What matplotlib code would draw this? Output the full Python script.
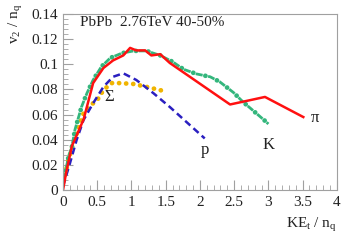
import matplotlib.pyplot as plt
import numpy as np

plt.rcParams['font.family'] = ['Liberation Serif', 'DejaVu Serif']
plt.rcParams['mathtext.fontset'] = 'custom'
plt.rcParams['mathtext.rm'] = 'Liberation Serif'
plt.rcParams['mathtext.it'] = 'Liberation Serif'
plt.rcParams['lines.scale_dashes'] = False

# pion (solid red)
pi_x = [0, 0.05, 0.13, 0.30, 0.44, 0.59, 0.73, 0.88, 0.98, 1.07, 1.20, 1.29, 1.42, 1.56, 2.44, 2.95, 3.51]
pi_y = [0, 0.015, 0.035, 0.056, 0.085, 0.097, 0.103, 0.107, 0.113, 0.111, 0.111, 0.107, 0.108, 0.101, 0.068, 0.074, 0.058]

# kaon (green dash-dot)
k_x = [0, 0.03, 0.08, 0.13, 0.175, 0.27, 0.35, 0.44, 0.56, 0.69, 0.86, 1.03, 1.22, 1.42, 1.60,
       1.76, 1.95, 2.15, 2.29, 2.49, 2.63, 2.78, 2.95, 3.0]
k_y = [0.008, 0.013, 0.0265, 0.0345, 0.048, 0.066, 0.077, 0.0875, 0.098, 0.105, 0.1088, 0.1106, 0.1106, 0.107, 0.102,
       0.096, 0.0923, 0.090, 0.086, 0.0775, 0.070, 0.063, 0.055, 0.0525]

# proton (blue dashed)
p_x = [0, 0.10, 0.20, 0.30, 0.44, 0.59, 0.73, 0.88, 1.07, 1.32, 1.56, 2.07]
p_y = [0.003, 0.021, 0.040, 0.0557, 0.069, 0.082, 0.090, 0.0928, 0.0875, 0.077, 0.066, 0.041]

# sigma (orange dotted)
s_x = [0.03, 0.08, 0.15, 0.22, 0.30, 0.44, 0.52, 0.59, 0.71, 0.83, 1.03, 1.22, 1.45]
s_y = [0.012, 0.024, 0.037, 0.048, 0.061, 0.069, 0.073, 0.0795, 0.085, 0.085, 0.0843, 0.082, 0.079]

frame_color = '#a0a0a0'
txt = '#222222'
green = '#33b67c'

fig = plt.figure(figsize=(3.52, 2.49), dpi=100)
ax = fig.add_axes([0.179, 0.237, 0.778, 0.707])

ax.plot(s_x, s_y, color='#f0b400', lw=3.4, linestyle=(0, (0.1, 5.0)), dash_capstyle='round')
ax.plot(p_x, p_y, color='#2a1fc0', lw=1.8, linestyle=(0, (5, 3)))
ax.plot(k_x, k_y, color=green, lw=2.0, linestyle=(0, (5, 4)))
ax.plot(k_x, k_y, color=green, lw=3.4, linestyle=(2, (0.1, 8.9)), dash_capstyle='round')
ax.plot(pi_x, pi_y, color='#ff1010', lw=1.8)

ax.set_xlim(0, 4)
ax.set_ylim(0, 0.14)
ax.set_xticks(np.arange(0, 4.01, 0.5))
ax.set_xticklabels(['0', '0.5', '1', '1.5', '2', '2.5', '3', '3.5', '4'])
ax.set_yticks(np.arange(0, 0.141, 0.02))
ax.set_yticklabels(['0', '0.02', '0.04', '0.06', '0.08', '0.1', '0.12', '0.14'])
ax.set_xticks(np.arange(0, 4.01, 0.1), minor=True)
ax.set_yticks(np.arange(0, 0.141, 0.004), minor=True)
ax.tick_params(which='both', direction='in', color=frame_color, labelsize=11, labelcolor=txt)
ax.tick_params(which='major', length=7)
ax.tick_params(which='minor', length=3.5)
ax.tick_params(axis='x', pad=4)
for s in ax.spines.values():
    s.set_color(frame_color)

ax.text(0.25, 0.1335, 'PbPb  2.76TeV 40-50%', fontsize=11, color=txt, va='center')
ax.text(0.67, 0.074, r'$\Sigma$', fontsize=12, color=txt, va='center', ha='center')
ax.text(2.07, 0.032, 'p', fontsize=12, color=txt, va='center', ha='center')
ax.text(3.0, 0.036, 'K', fontsize=12, color=txt, va='center', ha='center')
ax.text(3.68, 0.057, r'$\pi$', fontsize=12, color=txt, va='center', ha='center')

fig.text(0.045, 0.985, r'v$_2$ / n$_q$', rotation=90, ha='center', va='top', fontsize=11, color=txt)
fig.text(0.957, 0.06, r'KE$_t$ / n$_q$', ha='right', va='bottom', fontsize=11, color=txt)

fig.savefig('out.png', dpi=100)
